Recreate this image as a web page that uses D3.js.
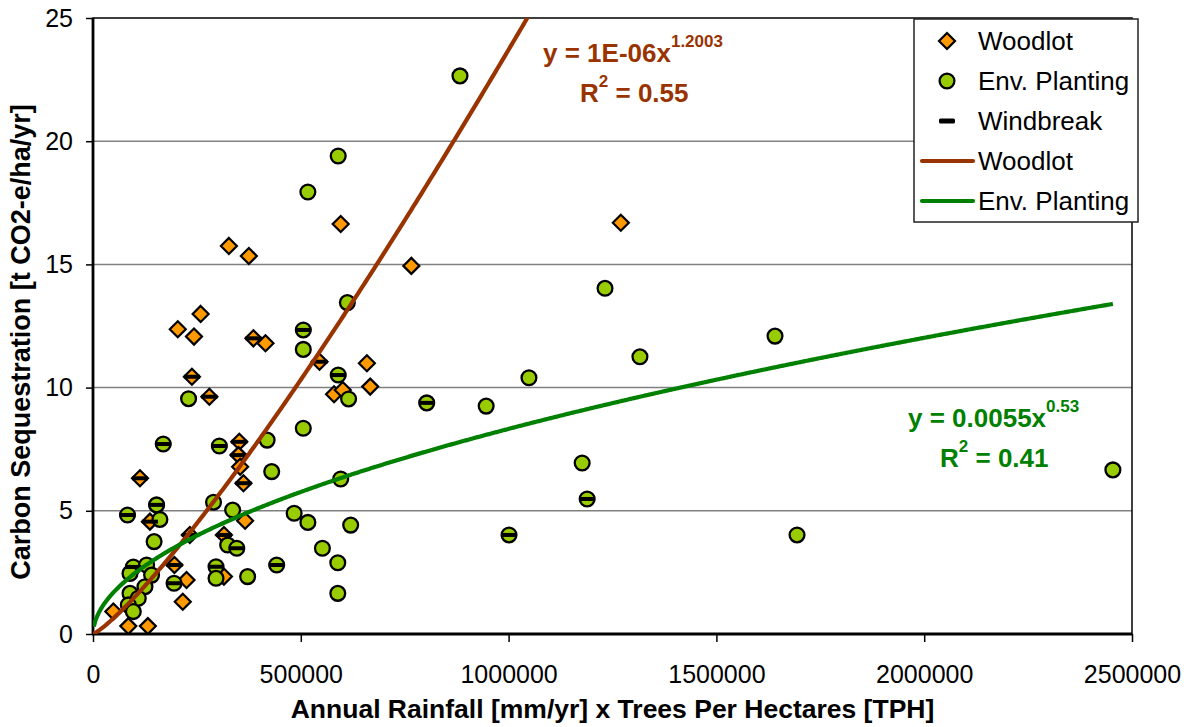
<!DOCTYPE html>
<html>
<head>
<meta charset="utf-8">
<script src="https://cdn.jsdelivr.net/npm/d3@7"></script>
<style>
  body { margin: 0; background: #fff; }
  svg text { font-family: Arial, "Liberation Sans", sans-serif; }
</style>
</head>
<body>
<svg id="chart" width="1193" height="727"></svg>
<script>
// ---- data: x = annual rainfall x trees per hectare, y = t CO2-e/ha/yr ----
const woodlotX = [327000, 375000, 259000, 204000, 243000, 386000, 415000, 238000, 280000, 352000,
                  350000, 354000, 362000, 113000, 137000, 366000, 233000, 315000, 196000, 225000,
                  315000, 216000, 49000, 85000, 132000, 596000, 766000, 545000, 659000, 667000,
                  580000, 601000, 1270000];
const woodlotY = [15.75, 15.34, 12.99, 12.37, 12.07, 12.0, 11.8, 10.44, 9.63, 7.8,
                  7.26, 6.79, 6.12, 6.32, 4.56, 4.6, 4.02, 4.02, 2.8, 2.19,
                  2.33, 1.31, 0.91, 0.32, 0.32, 16.64, 14.94, 11.05, 10.99, 10.04,
                  9.73, 9.9, 16.69];

const envX = [883000, 590000, 517000, 612000, 506000, 506000, 590000, 615000, 803000, 1232000,
              1316000, 1049000, 946000, 1641000, 1177000, 1189000, 1001000, 1694000, 2454000, 230000,
              169000, 304000, 419000, 430000, 506000, 596000, 484000, 517000, 620000, 552000,
              589000, 589000, 442000, 153000, 83000, 161000, 290000, 336000, 147000, 324000,
              346000, 296000, 296000, 195000, 372000, 97000, 129000, 89000, 141000, 125000,
              89000, 109000, 85000, 97000];
const envY = [22.65, 19.4, 17.94, 13.45, 12.34, 11.55, 10.51, 9.54, 9.38, 14.03,
              11.25, 10.4, 9.25, 12.09, 6.94, 5.48, 4.02, 4.02, 6.66, 9.55,
              7.71, 7.63, 7.87, 6.59, 8.35, 6.29, 4.9, 4.53, 4.42, 3.48,
              2.89, 1.65, 2.8, 5.24, 4.83, 4.65, 5.35, 5.03, 3.75, 3.61,
              3.48, 2.73, 2.26, 2.06, 2.33, 2.72, 2.8, 2.46, 2.39, 1.92,
              1.65, 1.45, 1.18, 0.91];

const windbreakX = [386000, 238000, 280000, 352000, 350000, 362000, 113000, 137000, 233000, 315000,
                    196000, 545000, 506000, 590000, 803000, 1189000, 1001000, 169000, 304000, 442000,
                    153000, 83000, 346000, 296000, 195000, 97000];
const windbreakY = [12.0, 10.44, 9.63, 7.8, 7.26, 6.12, 6.32, 4.56, 4.02, 4.02,
                    2.8, 11.05, 12.34, 10.51, 9.38, 5.48, 4.02, 7.71, 7.63, 2.8,
                    5.24, 4.83, 3.48, 2.73, 2.06, 2.72];

// power trend fits y = a * x^b
const woodlotFit = { a: 1.49e-6, b: 1.2003, r2: 0.55 };
const envFit = { a: 0.0055, b: 0.53, r2: 0.41 };

const xTicks = [0, 500000, 1000000, 1500000, 2000000, 2500000];
const yTicks = [0, 5, 10, 15, 20, 25];
const gridY = [5, 10, 15, 20];

const legendItems = ["Woodlot", "Env. Planting", "Windbreak", "Woodlot", "Env. Planting"];

// ---- colours ----
const cWood = "#FF9900", cEnv = "#99CC00", cWoodLine = "#993300", cEnvLine = "#008000";

const svg = d3.select("#chart");
const L = 93, R = 1132, T = 18, B = 634;
const x = d3.scaleLinear().domain([0, 2500000]).range([L, R]);
const y = d3.scaleLinear().domain([0, 25]).range([B, T]);

svg.append("defs").append("clipPath").attr("id", "plotClip")
  .append("rect").attr("x", L).attr("y", T).attr("width", R - L).attr("height", B - T);

// gridlines
svg.append("g").selectAll("line").data(gridY).join("line")
  .attr("x1", L).attr("x2", R).attr("y1", d => y(d)).attr("y2", d => y(d))
  .attr("stroke", "#808080").attr("stroke-width", 1.5);

// plot frame
svg.append("rect").attr("x", L).attr("y", T).attr("width", R - L).attr("height", B - T)
  .attr("fill", "none").attr("stroke", "#000").attr("stroke-width", 1.5);

// axes
const yAxis = d3.axisLeft(y).tickValues(yTicks).tickSize(7).tickPadding(13).tickFormat(d3.format("d"));
const xAxis = d3.axisBottom(x).tickValues(xTicks).tickSize(8).tickPadding(23).tickFormat(d3.format("d"));

const gy = svg.append("g").attr("transform", `translate(${L},0)`).call(yAxis);
const gx = svg.append("g").attr("transform", `translate(0,${B})`).call(xAxis);
[gx, gy].forEach(g => {
  g.select(".domain").remove();
  g.selectAll(".tick line").attr("stroke", "#000").attr("stroke-width", 1.5);
  g.selectAll(".tick text").attr("fill", "#000").style("font-size", "25px")
    .style("font-family", "Arial, 'Liberation Sans', sans-serif");
});
svg.append("line").attr("x1", L).attr("x2", L).attr("y1", T).attr("y2", B + 1)
  .attr("stroke", "#000").attr("stroke-width", 2.8);
svg.append("line").attr("x1", L - 1).attr("x2", R).attr("y1", B).attr("y2", B)
  .attr("stroke", "#000").attr("stroke-width", 2.8);

// axis titles
svg.append("text").attr("x", (L + R) / 2).attr("y", 718).attr("text-anchor", "middle")
  .style("font-size", "26.5px").style("font-weight", "bold")
  .text("Annual Rainfall [mm/yr] x Trees Per Hectares [TPH]");
svg.append("text").attr("transform", `translate(30,342) rotate(-90)`)
  .attr("text-anchor", "middle").style("font-size", "27px").style("font-weight", "bold")
  .text("Carbon Sequestration [t CO2-e/ha/yr]");

// markers
const diamondPath = "M0,-8L8,0L0,8L-8,0Z";
const plot = svg.append("g").attr("clip-path", "url(#plotClip)");

plot.append("g").selectAll("path").data(d3.zip(woodlotX, woodlotY)).join("path")
  .attr("d", diamondPath)
  .attr("transform", d => `translate(${x(d[0])},${y(d[1])})`)
  .attr("fill", cWood).attr("stroke", "#000").attr("stroke-width", 2.2).attr("stroke-linejoin", "miter");

plot.append("g").selectAll("circle").data(d3.zip(envX, envY)).join("circle")
  .attr("cx", d => x(d[0])).attr("cy", d => y(d[1])).attr("r", 7.4)
  .attr("fill", cEnv).attr("stroke", "#000").attr("stroke-width", 2.3);

plot.append("g").selectAll("rect").data(d3.zip(windbreakX, windbreakY)).join("rect")
  .attr("x", d => x(d[0]) - 8).attr("y", d => y(d[1]) - 2)
  .attr("width", 16).attr("height", 4).attr("fill", "#000");

// trendlines
function powerCurve(fit, x0, x1, n) {
  return d3.range(n + 1).map(i => {
    const v = x0 + (x1 - x0) * i / n;
    return [v, fit.a * Math.pow(v, fit.b)];
  });
}
const line = d3.line().x(d => x(d[0])).y(d => y(d[1]));
plot.append("path").datum(powerCurve(woodlotFit, 0, 1200000, 300))
  .attr("d", line).attr("fill", "none").attr("stroke", cWoodLine).attr("stroke-width", 4.2);
plot.append("path").datum(powerCurve(envFit, 2000, 2454000, 600))
  .attr("d", line).attr("fill", "none").attr("stroke", cEnvLine).attr("stroke-width", 4.2);

// equation labels
function sciLabel(v) {
  const e = Math.floor(Math.log10(v));
  const m = Math.round(v / Math.pow(10, e));
  const s = String(Math.abs(e)).padStart(2, "0");
  return `${m}E${e < 0 ? "-" : "+"}${s}`;
}
function equation(fit, coefText, x0, y0, rx, ry, colour) {
  const t1 = svg.append("text").attr("x", x0).attr("y", y0).attr("fill", colour)
    .style("font-size", "26px").style("font-weight", "bold");
  t1.append("tspan").text(`y = ${coefText}x`);
  t1.append("tspan").attr("dy", -15).style("font-size", "17px").text(String(fit.b));
  const t2 = svg.append("text").attr("x", rx).attr("y", ry).attr("fill", colour)
    .style("font-size", "26px").style("font-weight", "bold");
  t2.append("tspan").text("R");
  t2.append("tspan").attr("dy", -15).style("font-size", "17px").text("2");
  t2.append("tspan").attr("dy", 15).text(` = ${fit.r2}`);
}
equation(woodlotFit, sciLabel(woodlotFit.a), 543, 62, 580, 102, cWoodLine);
equation(envFit, String(envFit.a), 908, 427, 940, 467, cEnvLine);

// legend
const lg = svg.append("g");
lg.append("rect").attr("x", 914).attr("y", 19).attr("width", 224).attr("height", 203)
  .attr("fill", "#fff").attr("stroke", "#222").attr("stroke-width", 1.5);
const rowY = i => 41 + i * 40;
lg.selectAll("text").data(legendItems).join("text")
  .attr("x", 978).attr("y", (d, i) => rowY(i)).attr("dy", "0.36em")
  .style("font-size", "26px").attr("fill", "#000").text(d => d);
lg.append("path").attr("d", diamondPath).attr("transform", `translate(947,${rowY(0)})`)
  .attr("fill", cWood).attr("stroke", "#000").attr("stroke-width", 2.2);
lg.append("circle").attr("cx", 947).attr("cy", rowY(1)).attr("r", 7.4)
  .attr("fill", cEnv).attr("stroke", "#000").attr("stroke-width", 2.3);
lg.append("rect").attr("x", 939).attr("y", rowY(2) - 2.5).attr("width", 16).attr("height", 5)
  .attr("rx", 1.5).attr("fill", "#000");
lg.append("line").attr("x1", 922).attr("x2", 973).attr("y1", rowY(3)).attr("y2", rowY(3))
  .attr("stroke", cWoodLine).attr("stroke-width", 4.2).attr("stroke-linecap", "round");
lg.append("line").attr("x1", 922).attr("x2", 973).attr("y1", rowY(4)).attr("y2", rowY(4))
  .attr("stroke", cEnvLine).attr("stroke-width", 4.2).attr("stroke-linecap", "round");
</script>
</body>
</html>
